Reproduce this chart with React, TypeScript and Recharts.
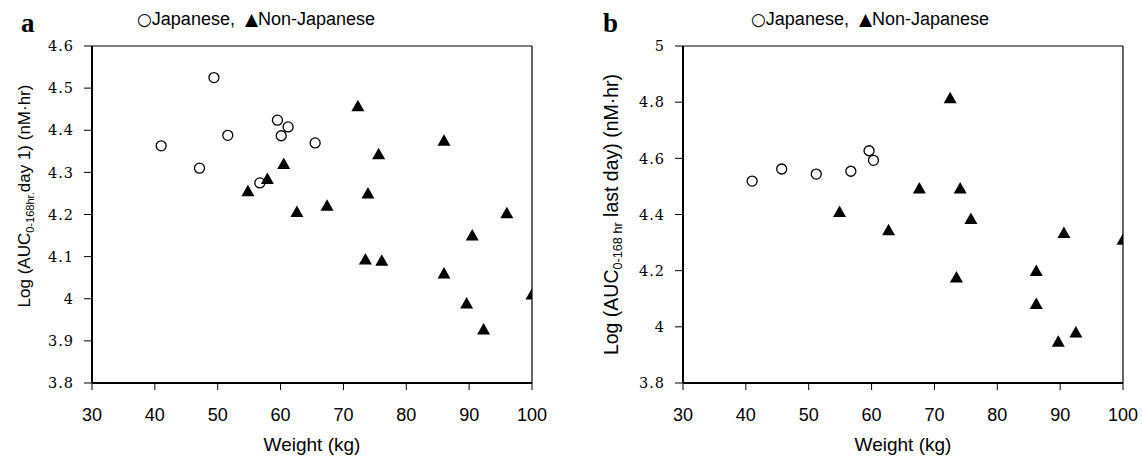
import { ScatterChart, Scatter, XAxis, YAxis, ReferenceLine } from 'recharts';

// panel a: AUC day 1
const jpnWeightA = [41.0, 47.1, 49.4, 51.6, 56.7, 59.5, 60.1, 61.2, 65.5];
const jpnAucA = [4.363, 4.31, 4.525, 4.388, 4.275, 4.424, 4.387, 4.408, 4.37];
const nonJpnWeightA = [54.8, 57.9, 60.5, 62.6, 67.4, 72.3, 73.5, 73.9, 75.6, 76.1, 86.0, 86.0, 89.6, 90.5, 92.3, 96.0, 100];
const nonJpnAucA = [4.255, 4.284, 4.32, 4.206, 4.221, 4.457, 4.093, 4.25, 4.343, 4.09, 4.375, 4.06, 3.989, 4.15, 3.927, 4.203, 4.01];

// panel b: AUC last day
const jpnWeightB = [41.0, 45.7, 51.2, 56.7, 59.6, 60.3];
const jpnAucB = [4.519, 4.562, 4.544, 4.554, 4.627, 4.593];
const nonJpnWeightB = [54.9, 62.7, 67.6, 72.5, 73.5, 74.1, 75.8, 86.2, 86.2, 89.7, 90.6, 92.5, 100];
const nonJpnAucB = [4.409, 4.344, 4.493, 4.814, 4.176, 4.493, 4.384, 4.199, 4.081, 3.947, 4.334, 3.98, 4.31];

const xTicks = [30, 40, 50, 60, 70, 80, 90, 100];
const yTicksA = [3.8, 3.9, 4, 4.1, 4.2, 4.3, 4.4, 4.5, 4.6];
const yTicksB = [3.8, 4, 4.2, 4.4, 4.6, 4.8, 5];

const legendText = 'Japanese,  ';
const legendText2 = 'Non-Japanese';

const zip = (w: number[], v: number[]) => w.map((weight, i) => ({ weight, auc: v[i] }));

const OpenCircle = (props: any) => (
  <circle cx={props.cx} cy={props.cy} r={5} fill="#fff" stroke="#000" strokeWidth={1.3} />
);

const Triangle = (props: any) => {
  const { cx, cy } = props;
  return <path d={`M${cx},${cy - 6.5}L${cx + 6.5},${cy + 5}L${cx - 6.5},${cy + 5}Z`} fill="#000" />;
};

const YTick = (props: any) => {
  const { x, y, payload } = props;
  return (
    <text x={x} y={y} dy="0.36em" textAnchor="end" fill="#000"
      style={{ fontFamily: '"DejaVu Serif"', fontSize: 14.5, letterSpacing: 1 }}>
      {payload.value}
    </text>
  );
};

const XTick = (props: any) => {
  const { x, y, payload } = props;
  return (
    <text x={x} y={y} dy="0.71em" textAnchor="middle" fill="#000"
      style={{ fontFamily: '"Liberation Sans", Arial', fontSize: 18 }}>
      {payload.value}
    </text>
  );
};

interface PanelProps {
  jpn: { weight: number; auc: number }[];
  nonJpn: { weight: number; auc: number }[];
  yDomain: [number, number];
  yTicks: number[];
  yAxisWidth: number;
  rightMargin: number;
  labelX: number;
  labelShift: number;
  labelSize: number;
  sub: string;
  rest: string;
}

function Panel({ jpn, nonJpn, yDomain, yTicks, yAxisWidth, rightMargin, labelX, labelShift, labelSize, sub, rest }: PanelProps) {
  return (
    <ScatterChart width={571} height={463} margin={{ top: 46, right: rightMargin, bottom: 0, left: 0 }}>
      <XAxis
        type="number"
        dataKey="weight"
        domain={[30, 100]}
        ticks={xTicks}
        height={80}
        tickSize={7}
        tickMargin={18}
        tick={<XTick />}
        axisLine={{ stroke: '#000', strokeWidth: 2 }}
        tickLine={{ stroke: '#000' }}
        allowDataOverflow
        label={{
          content: (p: any) => {
            const vb = p.viewBox;
            return (
              <text x={vb.x + vb.width / 2} y={vb.y + 68} textAnchor="middle" fill="#000"
                style={{ fontFamily: '"Liberation Sans", Arial', fontSize: 19 }}>
                Weight (kg)
              </text>
            );
          },
        }}
      />
      <YAxis
        type="number"
        dataKey="auc"
        domain={yDomain}
        ticks={yTicks}
        width={yAxisWidth}
        tickSize={8}
        tickMargin={10}
        tick={<YTick />}
        axisLine={{ stroke: '#000', strokeWidth: 2 }}
        tickLine={{ stroke: '#000' }}
        allowDataOverflow
        label={{
          content: (p: any) => {
            const vb = p.viewBox;
            const cx = vb.x + labelX;
            const cy = vb.y + vb.height / 2 + labelShift;
            return (
              <text x={cx} y={cy} textAnchor="middle" fill="#000" transform={`rotate(-90 ${cx} ${cy})`}
                style={{ fontFamily: '"Liberation Sans", Arial', fontSize: labelSize }}>
                Log (AUC
                <tspan fontSize={labelSize * 0.65} dy={4}>{sub}</tspan>
                <tspan dy={-4}>{rest}</tspan>
              </text>
            );
          },
        }}
      />
      <ReferenceLine y={yDomain[1]} stroke="#000" strokeWidth={1.2} />
      <ReferenceLine x={100} stroke="#000" strokeWidth={1.2} />
      <Scatter data={jpn} shape={<OpenCircle />} isAnimationActive={false} />
      <Scatter data={nonJpn} shape={<Triangle />} isAnimationActive={false} />
    </ScatterChart>
  );
}

function Legend({ x }: { x: number }) {
  return (
    <text x={x} y={25} style={{ fontFamily: '"Liberation Sans", Arial', fontSize: 18, whiteSpace: 'pre' }}>
      <tspan style={{ fontFamily: '"DejaVu Sans"', fontSize: 17 }}>○</tspan>{legendText}
      <tspan style={{ fontFamily: '"DejaVu Sans"', fontSize: 17 }}>▲</tspan>{legendText2}
    </text>
  );
}

export default function App() {
  return (
    <div style={{ position: 'absolute', left: 0, top: 0, width: 1142, height: 463, background: '#fff' }}>
      <div style={{ position: 'absolute', left: 0, top: 0 }}>
        <Panel
          jpn={zip(jpnWeightA, jpnAucA)}
          nonJpn={zip(nonJpnWeightA, nonJpnAucA)}
          yDomain={[3.8, 4.6]}
          yTicks={yTicksA}
          yAxisWidth={92}
          rightMargin={39}
          labelX={29.5}
          labelShift={-18.5}
          labelSize={17}
          sub="0-168hr."
          rest="day 1) (nM·hr)"
        />
      </div>
      <div style={{ position: 'absolute', left: 571, top: 0 }}>
        <Panel
          jpn={zip(jpnWeightB, jpnAucB)}
          nonJpn={zip(nonJpnWeightB, nonJpnAucB)}
          yDomain={[3.8, 5]}
          yTicks={yTicksB}
          yAxisWidth={112}
          rightMargin={19}
          labelX={47}
          labelShift={0}
          labelSize={19.5}
          sub="0-168 hr"
          rest=" last day) (nM·hr)"
        />
      </div>
      <svg width={1142} height={463} style={{ position: 'absolute', left: 0, top: 0, pointerEvents: 'none' }}>
        <text x={21} y={32} style={{ fontFamily: '"Liberation Serif"', fontWeight: 'bold', fontSize: 27 }}>a</text>
        <text x={603} y={32} style={{ fontFamily: '"Liberation Serif"', fontWeight: 'bold', fontSize: 27 }}>b</text>
        <Legend x={137} />
        <Legend x={751} />
      </svg>
    </div>
  );
}
